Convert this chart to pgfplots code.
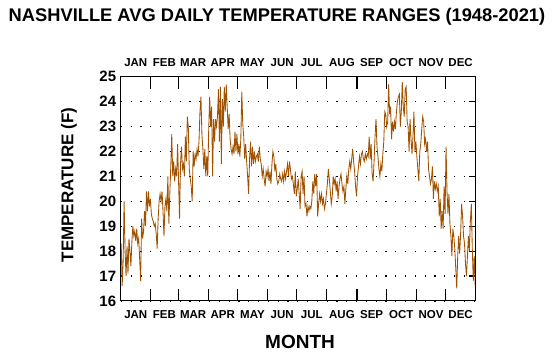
\documentclass[border=0pt]{standalone}
\usepackage{fontspec}
\setmainfont{Liberation Sans}
\usepackage{pgfplots}
\usepackage{pgfplotstable}
\pgfplotsset{compat=1.18}
\definecolor{templine}{RGB}{160,82,0}
\pgfplotstableread{
t
18.3
16.6
17.6
20.0
18.0
17.0
18.2
17.1
18.5
18.0
17.4
18.4
19.0
18.6
18.8
18.4
18.9
18.3
18.5
17.7
16.8
19.3
18.5
18.8
19.6
19.0
20.4
19.6
20.4
19.8
20.1
19.5
19.3
19.2
19.0
19.1
18.7
18.1
19.3
20.0
20.3
20.0
20.4
19.6
18.6
19.8
20.1
19.6
21.0
19.1
20.3
21.4
22.7
21.0
21.6
20.8
21.3
21.0
22.3
20.8
19.3
21.5
22.2
21.3
21.5
21.0
22.6
21.6
23.4
23.0
21.3
20.9
20.6
20.0
22.0
21.4
21.9
21.7
22.1
21.8
22.4
23.6
24.2
22.7
22.1
21.3
22.1
21.0
21.8
21.0
22.9
24.2
23.0
23.8
21.0
23.3
22.4
23.3
23.0
23.4
24.5
22.4
24.6
21.5
24.1
23.0
24.6
23.6
24.7
23.8
22.9
23.5
22.5
22.1
21.9
22.2
21.9
22.8
22.0
22.7
21.9
22.3
21.8
22.5
24.4
23.1
22.6
21.7
22.3
21.6
21.0
20.3
21.7
22.4
21.4
22.2
21.5
22.0
21.6
21.8
21.9
21.6
22.2
21.7
21.5
21.0
21.3
20.9
20.6
21.2
21.0
21.3
20.8
21.2
20.7
21.5
22.0
21.8
21.2
21.5
20.9
20.7
20.8
21.1
20.9
20.8
21.1
20.8
21.2
20.9
21.2
21.5
21.0
21.6
21.3
20.9
21.0
20.7
20.3
21.2
20.2
20.5
20.9
20.3
19.7
21.0
21.2
20.3
21.0
19.8
19.9
19.4
19.8
19.6
19.8
19.7
20.0
20.8
20.3
21.1
20.6
21.1
19.4
19.9
20.3
20.0
20.3
19.9
20.1
19.7
19.9
20.3
20.7
21.3
20.9
20.4
19.9
20.2
21.0
20.7
20.9
20.4
20.8
20.1
20.6
20.9
21.1
20.7
20.4
20.6
19.9
20.5
21.0
20.7
21.3
21.6
21.3
21.7
22.1
21.6
21.2
20.6
20.2
21.0
21.4
21.8
21.5
21.9
22.0
21.7
21.6
21.9
21.7
21.9
21.8
22.6
21.7
22.3
21.1
20.8
21.6
22.6
23.3
22.2
21.8
21.3
21.0
21.5
21.2
21.9
22.4
23.6
23.5
23.0
23.2
24.7
23.5
23.8
22.5
23.2
22.8
23.2
22.9
23.6
24.0
24.2
24.3
23.0
23.6
24.8
23.8
23.4
24.5
24.6
23.2
23.0
22.0
23.3
22.5
21.9
22.6
23.6
22.0
22.4
21.8
21.3
20.8
22.0
22.3
22.9
23.4
23.2
22.3
22.5
22.0
22.4
21.3
21.0
20.7
20.9
21.4
20.1
20.8
20.5
20.7
20.4
20.6
19.4
20.1
18.9
19.6
18.9
20.6
19.5
22.2
20.4
19.5
20.3
19.1
18.6
17.8
18.9
18.6
18.1
17.3
16.5
17.8
18.6
17.9
18.7
19.9
19.4
18.6
18.3
17.5
17.0
17.8
18.6
18.0
19.2
19.9
18.1
16.8
17.8
16.6
}\tempdata
\begin{document}
\begin{tikzpicture}[x=1pt,y=1pt]
\path[use as bounding box] (0,0) rectangle (554,-360);
% main axis
\begin{axis}[
  at={(120.7pt,-300.9pt)}, anchor=south west,
  scale only axis, width=355pt, height=224.1pt,
  xmin=0, xmax=365, ymin=16, ymax=25,
  axis line style={line width=1.1pt},
  /pgf/number format/assume math mode=true,
  xtick={15.5,45,74.5,105,135.5,166,196.5,227.5,258,288.5,319,349.5},
  xticklabels={JAN,FEB,MAR,APR,MAY,JUN,JUL,AUG,SEP,OCT,NOV,DEC},
  xtick style={draw=none},
  xticklabel style={font=\bfseries\fontsize{11.5}{11.5}\selectfont, yshift=-6pt},
  ytick={16,17,...,25},
  ytick pos=right, yticklabel pos=left,
  tick align=inside,
  major tick length=7pt,
  ytick style={line width=1.1pt, black},
  yticklabel style={font=\bfseries\fontsize{15}{15}\selectfont, xshift=-1pt},
  ymajorgrids,
  grid style={black, line width=1.2pt, dash pattern=on 1.2pt off 8.6pt},
]
\addplot[templine, line width=0.85pt, line join=miter] table[x expr=\coordindex+0.5, y index=0] {\tempdata};
\end{axis}
% month boundary ticks
\begin{axis}[
  at={(120.7pt,-300.9pt)}, anchor=south west,
  scale only axis, width=355pt, height=224.1pt,
  xmin=0, xmax=365, ymin=16, ymax=25,
  axis line style={line width=1.1pt},
  xtick={31,59,90,120,151,181,212,243,273,304,334},
  xticklabels={},
  ytick=\empty,
  tick align=inside,
  major tick length=12pt,
  xtick style={line width=1.1pt, black},
]
\end{axis}
% top month labels
\begin{axis}[
  at={(120.7pt,-300.9pt)}, anchor=south west,
  scale only axis, width=355pt, height=224.1pt,
  xmin=0, xmax=365, ymin=16, ymax=25,
  axis x line*=top, hide y axis,
  x axis line style={draw=none},
  xtick={15.5,45,74.5,105,135.5,166,196.5,227.5,258,288.5,319,349.5},
  xticklabels={JAN,FEB,MAR,APR,MAY,JUN,JUL,AUG,SEP,OCT,NOV,DEC},
  xtick style={draw=none},
  xticklabel style={font=\bfseries\fontsize{11.5}{11.5}\selectfont, yshift=7pt},
]
\end{axis}
\node[font=\bfseries\fontsize{18.3}{18.3}\selectfont] at (277,-17) {NASHVILLE AVG DAILY TEMPERATURE RANGES (1948-2021)};
\node[font=\bfseries\fontsize{19}{19}\selectfont] at (300,-342) {MONTH};
\node[font=\bfseries\fontsize{17}{17}\selectfont, rotate=90] at (69,-185) {TEMPERATURE (F)};
\end{tikzpicture}
\end{document}
